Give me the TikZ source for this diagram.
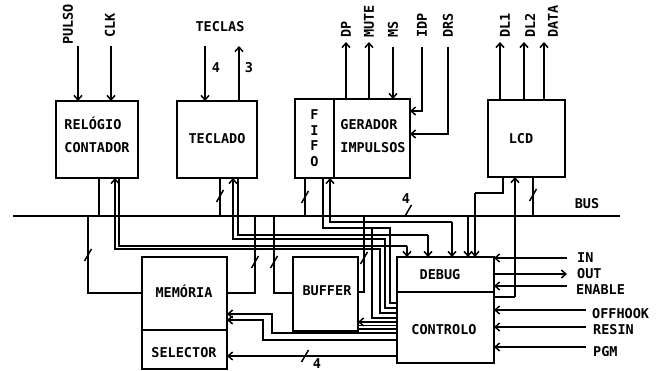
\documentclass[tikz,border=0pt]{standalone}
\usepackage{fontspec}
\setmainfont{DejaVu Sans Mono}
\usetikzlibrary{arrows.meta}
\begin{document}
\begin{tikzpicture}[x=1pt,y=-1pt,
  box/.style={draw, line width=2pt, inner sep=0pt},
  wire/.style={line width=1.5pt},
  arr/.style={wire,-{Straight Barb[length=4.5pt,width=8pt]}},
  rarr/.style={wire,{Straight Barb[length=4.5pt,width=8pt]}-},
  lbl/.style={font=\fontsize{13.5}{23}\selectfont\bfseries, inner sep=0pt},
  vlbl/.style={lbl, rotate=90, anchor=west},
  slash/.pic={\draw[line width=1.5pt] (-3.5,6) -- (3.5,-6);}
]
\useasboundingbox (0,0) rectangle (657,371);
% blocks
\node[box, minimum width=82pt, minimum height=77pt] (rel) at (97,139.5) {};
\node[lbl, align=left] (reltxt) at (97,135) {RELÓGIO\\CONTADOR};
\node[box, minimum width=80pt, minimum height=77pt] (tec) at (217,139.5) {};
\node[lbl] (tectxt) at (217,139) {TECLADO};
\node[box, minimum width=39pt, minimum height=79pt] (fifo) at (314.5,138.5) {};
\node[lbl, align=center, font=\fontsize{13.5}{15.5}\selectfont\bfseries] (fifotxt) at (314.5,138) {F\\I\\F\\O};
\node[box, minimum width=76pt, minimum height=79pt] (ger) at (372,138.5) {};
\node[lbl, align=left] (gertxt) at (373,136) {GERADOR\\IMPULSOS};
\node[box, minimum width=77pt, minimum height=77pt] (lcd) at (526.5,138.5) {};
\node[lbl] (lcdtxt) at (521,139) {LCD};
\node[box, minimum width=85pt, minimum height=73pt] (mem) at (184.5,293.5) {};
\node[lbl] (memtxt) at (184,291) {MEMÓRIA};
\node[box, minimum width=85pt, minimum height=39pt] (sel) at (184.5,349.5) {};
\node[lbl] (seltxt) at (184,353) {SELECTOR};
\node[box, minimum width=65pt, minimum height=74pt] (buf) at (325.5,294) {};
\node[lbl] (buftxt) at (327,291) {BUFFER};
\node[box, minimum width=97pt, minimum height=35pt] (dbg) at (445.5,274.5) {};
\node[lbl] (dbgtxt) at (440,275) {DEBUG};
\node[box, minimum width=97pt, minimum height=71pt] (ctl) at (445.5,327.5) {};
\node[lbl] (ctltxt) at (444,330) {CONTROLO};

% top labels
\node[vlbl] (pulso) at (68,45) {PULSO};
\node[vlbl] (clk) at (110,38) {CLK};
\node[lbl] (teclas) at (220,27) {TECLAS};
\node[lbl] (n4) at (216,68) {4};
\node[lbl] (n3) at (249,68) {3};
\node[vlbl] (dp) at (346,38) {DP};
\node[vlbl] (mute) at (369,38) {MUTE};
\node[vlbl] (ms) at (393,38) {MS};
\node[vlbl] (idp) at (422,38) {IDP};
\node[vlbl] (drs) at (448,38) {DRS};
\node[vlbl] (dl1) at (505,38) {DL1};
\node[vlbl] (dl2) at (530,38) {DL2};
\node[vlbl] (data) at (553,38) {DATA};

\draw[arr] (78,46) -- (78,101);
\draw[arr] (111,46) -- (111,101);
\draw[arr] (205,46) -- (205,101);
\draw[arr] (239,101) -- (239,46);
\draw[arr] (346,99) -- (346,42);
\draw[arr] (369,99) -- (369,42);
\draw[arr] (393,47) -- (393,99);
\draw[arr] (422,47) -- (422,111) -- (410,111);
\draw[arr] (448,47) -- (448,134) -- (410,134);
\draw[arr] (500,100) -- (500,42);
\draw[arr] (524,100) -- (524,42);
\draw[arr] (544,100) -- (544,42);

% bus
\draw[wire] (13,216) -- (620,216);
\path (408,211) pic {slash};
\node[lbl] (bus4) at (406,199) {4};
\node[lbl] (bustxt) at (587,204) {BUS};

% block to bus
\draw[wire] (99,178) -- (99,216);
\draw[wire] (220,178) -- (220,216); \path (220,196) pic {slash};
\draw[wire] (305,178) -- (305,216); \path (305,197) pic {slash};
\draw[wire] (533,177) -- (533,216); \path (533,195) pic {slash};
\draw[wire] (88,216) -- (88,293) -- (142,293); \path (88,255) pic {slash};
\draw[wire] (255,216) -- (255,293) -- (227,293); \path (255,262) pic {slash};
\draw[wire] (274,216) -- (274,293) -- (293,293); \path (274,262) pic {slash};
\draw[wire] (364,216) -- (364,292) -- (358,292); \path (364,258) pic {slash};
\draw[arr] (468,216) -- (468,257);

% pairs from top blocks
\draw[rarr] (115,178) -- (115,249) -- (380,249) -- (380,313) -- (397,313);
\draw[wire] (119,178) -- (119,246) -- (407,246);
\draw[arr] (407,246) -- (407,257);
\draw[rarr] (233,178) -- (233,239) -- (385,239) -- (385,308) -- (397,308);
\draw[wire] (238,178) -- (238,235) -- (428,235);
\draw[arr] (428,235) -- (428,257);
\draw[wire] (323,178) -- (323,228) -- (390,228) -- (390,303) -- (397,303);
\draw[rarr] (330,178) -- (330,222) -- (452,222);
\draw[arr] (452,222) -- (452,257);
\draw[wire] (372,228) -- (372,318) -- (397,318);

% LCD
\draw[wire] (503,177) -- (503,193) -- (475,193);
\draw[arr] (475,193) -- (475,257);
\draw[wire] (494,297) -- (515,297);
\draw[arr] (515,297) -- (515,177);

% buffer / memory / selector
\draw[rarr] (358,322) -- (397,322);
\draw[wire] (358,325.5) -- (397,325.5);
\draw[wire] (358,329) -- (397,329);
\draw[rarr] (227,314) -- (272,314) -- (272,333) -- (397,333);
\draw[rarr] (227,320) -- (263,320) -- (263,340) -- (397,340);
\draw[rarr] (227,356) -- (397,356); \path (305,356) pic {slash};
\node[lbl] (sel4) at (317,364) {4};

% right side
\node[lbl, anchor=west] (in) at (577,258) {IN};
\node[lbl, anchor=west] (out) at (577,274) {OUT};
\node[lbl, anchor=west] (en) at (576,290) {ENABLE};
\node[lbl, anchor=west] (off) at (592,314) {OFFHOOK};
\node[lbl, anchor=west] (res) at (593,330) {RESIN};
\node[lbl, anchor=west] (pgm) at (593,352) {PGM};
\draw[arr] (567,258) -- (494,258);
\draw[arr] (494,274) -- (567,274);
\draw[arr] (567,286) -- (494,286);
\draw[arr] (586,310) -- (494,310);
\draw[arr] (586,327) -- (494,327);
\draw[arr] (586,347) -- (494,347);
\end{tikzpicture}
\end{document}
